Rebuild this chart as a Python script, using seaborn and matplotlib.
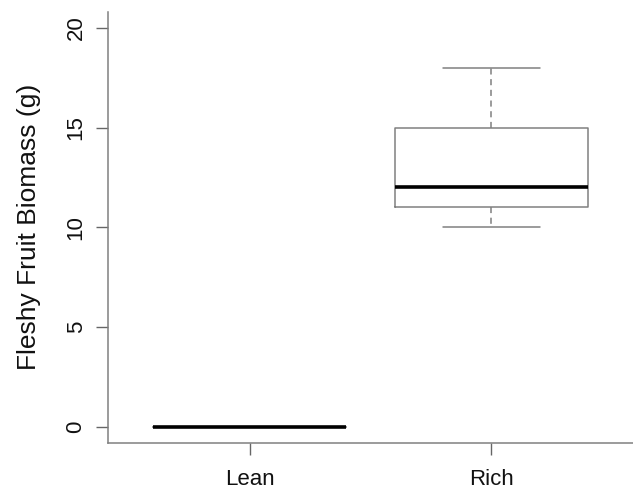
import pandas as pd
import seaborn as sns
import matplotlib
matplotlib.use("Agg")
import matplotlib.pyplot as plt

# Dati (biomassa frutti carnosi, g)
treatments = ["Lean", "Rich"]
lean_biomass = [0, 0, 0, 0, 0, 0, 0, 0]
rich_biomass = [10, 11, 11, 12, 12, 15, 15, 18]
y_ticks = [0, 5, 10, 15, 20]

df = pd.DataFrame({
    "Treatment": ["Lean"] * len(lean_biomass) + ["Rich"] * len(rich_biomass),
    "Biomass": lean_biomass + rich_biomass,
})

sns.set_theme(style="white")
plt.rcParams['font.family'] = ['Liberation Sans', 'DejaVu Sans']

fig = plt.figure(figsize=(6.33, 4.88), dpi=100)
ax = fig.add_axes([0.171, 0.0928, 0.829, 0.8826])

grey = "#808080"
sns.boxplot(
    data=df, x="Treatment", y="Biomass", order=treatments,
    fill=False, color=grey, width=0.8, linewidth=1.1,
    whiskerprops={"linestyle": (0, (4, 3)), "color": grey},
    capprops={"color": grey},
    boxprops={"color": grey},
    medianprops={"color": "black", "linewidth": 2.6, "zorder": 5},
    ax=ax,
)

ax.set_xlim(-0.586, 1.586)
ax.set_ylim(-0.8, 20.8)
ax.set_yticks(y_ticks)
ax.set_yticklabels([str(t) for t in y_ticks], rotation=90, va="center")
ax.set_xlabel("")
ax.set_ylabel("Fleshy Fruit Biomass (g)", fontsize=19, color="#111111", labelpad=18)

for side in ["top", "right"]:
    ax.spines[side].set_visible(False)
for side in ["left", "bottom"]:
    ax.spines[side].set_color(grey)
    ax.spines[side].set_linewidth(1.1)

ax.tick_params(axis="both", bottom=True, left=True, length=8.6, width=1.0,
               color="#666666", labelsize=16, labelcolor="#111111")
ax.tick_params(axis="y", pad=7)
ax.tick_params(axis="x", pad=10)

plt.savefig("out.png", dpi=100)
